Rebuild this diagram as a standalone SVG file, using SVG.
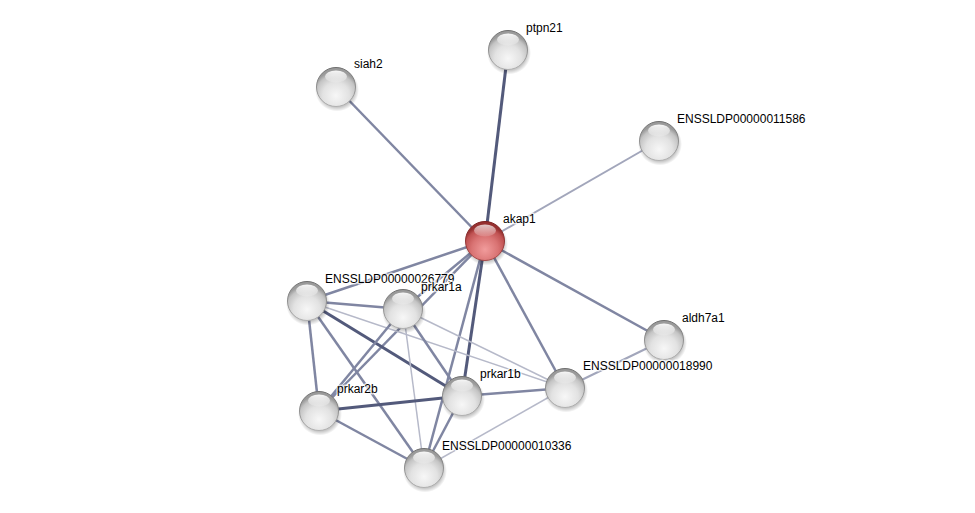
<svg xmlns="http://www.w3.org/2000/svg" width="975" height="513" viewBox="0 0 975 513">
<style>
.e{fill:none;stroke-linecap:butt}
.e1{stroke:#535a7b;stroke-width:3}
.e2{stroke:#8086a2;stroke-width:2.5}
.e3{stroke:#a2a6bb;stroke-width:2}
.e4{stroke:#b6b9c9;stroke-width:1.5}
.lbl{font-family:"Liberation Sans",Arial,sans-serif;font-size:12px;fill:#000;stroke:#fff;stroke-width:3;stroke-opacity:0.7;paint-order:stroke;stroke-linejoin:round}
</style>
<defs>
<radialGradient id="gGray" cx="50%" cy="72%" r="62%">
<stop offset="0" stop-color="#f7f7f7"/>
<stop offset="0.55" stop-color="#e2e2e2"/>
<stop offset="0.85" stop-color="#c4c4c4"/>
<stop offset="1" stop-color="#9a9a9a"/>
</radialGradient>
<radialGradient id="gRed" cx="50%" cy="72%" r="62%">
<stop offset="0" stop-color="#f19c9c"/>
<stop offset="0.55" stop-color="#d97373"/>
<stop offset="0.85" stop-color="#c05252"/>
<stop offset="1" stop-color="#963030"/>
</radialGradient>
<linearGradient id="rimG" x1="0" y1="0" x2="0" y2="1">
<stop offset="0" stop-color="#6e6e6e"/>
<stop offset="1" stop-color="#b0b0b0"/>
</linearGradient>
<linearGradient id="rimR" x1="0" y1="0" x2="0" y2="1">
<stop offset="0" stop-color="#7a2020"/>
<stop offset="1" stop-color="#a84a4a"/>
</linearGradient>
<linearGradient id="hl" x1="0" y1="0" x2="0" y2="1">
<stop offset="0" stop-color="#fff" stop-opacity="0.95"/>
<stop offset="1" stop-color="#fff" stop-opacity="0.15"/>
</linearGradient>
<radialGradient id="sh" cx="50%" cy="50%" r="50%">
<stop offset="0.8" stop-color="#000" stop-opacity="0.22"/>
<stop offset="1" stop-color="#000" stop-opacity="0"/>
</radialGradient>
<g id="ball">
<ellipse cx="1" cy="3" rx="22" ry="21.5" fill="url(#sh)"/>
<circle r="19.5" fill="url(#gGray)" stroke="url(#rimG)" stroke-width="1"/>
<ellipse cx="0" cy="-10.5" rx="11" ry="6" fill="url(#hl)"/>
</g>
<g id="ballR">
<ellipse cx="1" cy="3" rx="22" ry="21.5" fill="url(#sh)"/>
<circle r="19.5" fill="url(#gRed)" stroke="url(#rimR)" stroke-width="1"/>
<ellipse cx="0" cy="-10.5" rx="11" ry="6" fill="url(#hl)" opacity="0.8"/>
</g>
</defs>
<rect width="975" height="513" fill="#fff"/>
<g id="edges">
<line class="e e3" x1="485" y1="241" x2="659" y2="141"/>
<line class="e e2" x1="485" y1="241" x2="336" y2="87"/>
<line class="e e1" x1="485" y1="241" x2="508" y2="50"/>
<line class="e e2" x1="485" y1="241" x2="307" y2="301"/>
<line class="e e2" x1="485" y1="241" x2="403" y2="309"/>
<line class="e e2" x1="485" y1="241" x2="319" y2="411"/>
<line class="e e2" x1="485" y1="241" x2="424" y2="468"/>
<line class="e e1" x1="485" y1="241" x2="462" y2="396"/>
<line class="e e2" x1="485" y1="241" x2="565" y2="388"/>
<line class="e e2" x1="485" y1="241" x2="664" y2="340"/>
<line class="e e3" x1="565" y1="388" x2="664" y2="340"/>
<line class="e e2" x1="307" y1="301" x2="403" y2="309"/>
<line class="e e1" x1="307" y1="301" x2="462" y2="396"/>
<line class="e e2" x1="307" y1="301" x2="319" y2="411"/>
<line class="e e2" x1="307" y1="301" x2="424" y2="468"/>
<line class="e e4" x1="307" y1="301" x2="565" y2="388"/>
<line class="e e4" x1="403" y1="309" x2="565" y2="388"/>
<line class="e e4" x1="403" y1="309" x2="424" y2="468"/>
<line class="e e2" x1="403" y1="309" x2="462" y2="396"/>
<line class="e e2" x1="403" y1="309" x2="319" y2="411"/>
<line class="e e1" x1="462" y1="396" x2="319" y2="411"/>
<line class="e e2" x1="462" y1="396" x2="565" y2="388"/>
<line class="e e2" x1="462" y1="396" x2="424" y2="468"/>
<line class="e e2" x1="319" y1="411" x2="424" y2="468"/>
<line class="e e4" x1="565" y1="388" x2="424" y2="468"/>
</g>
<g id="ptpn21"><use href="#ball" x="508" y="50"/><text class="lbl" x="526" y="32">ptpn21</text></g>
<g id="siah2"><use href="#ball" x="336" y="87"/><text class="lbl" x="354" y="68">siah2</text></g>
<g id="ENSSLDP00000011586"><use href="#ball" x="659" y="141"/><text class="lbl" x="677" y="123">ENSSLDP00000011586</text></g>
<g id="aldh7a1"><use href="#ball" x="664" y="340"/><text class="lbl" x="682" y="322">aldh7a1</text></g>
<g id="ENSSLDP00000018990"><use href="#ball" x="565" y="388"/><text class="lbl" x="583" y="370">ENSSLDP00000018990</text></g>
<g id="ENSSLDP00000026779"><use href="#ball" x="307" y="301"/><text class="lbl" x="325" y="283">ENSSLDP00000026779</text></g>
<g id="prkar1a"><use href="#ball" x="403" y="309"/><text class="lbl" x="421" y="291">prkar1a</text></g>
<g id="prkar2b"><use href="#ball" x="319" y="411"/><text class="lbl" x="337" y="393">prkar2b</text></g>
<g id="prkar1b"><use href="#ball" x="462" y="396"/><text class="lbl" x="480" y="378">prkar1b</text></g>
<g id="ENSSLDP00000010336"><use href="#ball" x="424" y="468"/><text class="lbl" x="442" y="450">ENSSLDP00000010336</text></g>
<g id="akap1"><use href="#ballR" x="485" y="241"/><text class="lbl" x="503" y="223">akap1</text></g>
</svg>
